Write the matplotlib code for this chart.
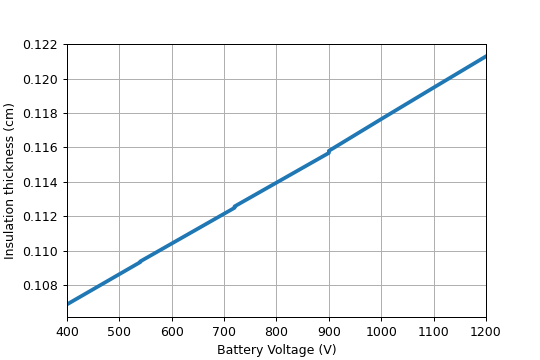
import matplotlib
matplotlib.use("Agg")
import matplotlib.pyplot as plt

# Battery voltage (V) at segment breakpoints (small steps at 540, 720, 900)
voltage = [400, 540, 540, 720, 720, 900, 900, 1000, 1100, 1200]
# Insulation thickness (cm)
thickness = [0.10687, 0.10933, 0.10937, 0.11249, 0.11257, 0.11568, 0.11580, 0.11765, 0.11948, 0.12130]

fig, ax = plt.subplots(figsize=(6, 4), dpi=90)
fig.subplots_adjust(left=0.124, right=0.9, top=0.878, bottom=0.12)
ax.plot(voltage, thickness, color="#1f77b4", linewidth=3)
ax.set_xlim(400, 1200)
ax.set_xlabel("Battery Voltage (V)")
ax.set_ylabel("Insulation thickness (cm)")
ax.grid(True)
fig.savefig("out.png", dpi=90)
